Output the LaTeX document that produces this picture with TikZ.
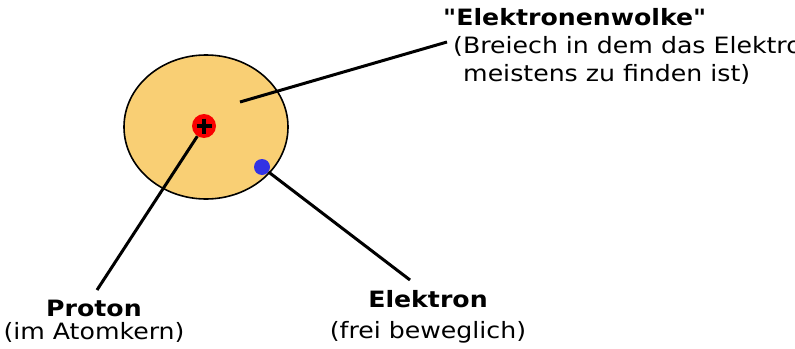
\documentclass[tikz,border=0pt]{standalone}
\usepackage{fontspec}
\setmainfont[FakeStretch=1.12,Ligatures=TeXOff]{DejaVu Sans}
\usepackage{tikz}
\usetikzlibrary{positioning,calc}
\usetikzlibrary{shapes.geometric}
\definecolor{wolkefill}{RGB}{249,207,116}
\definecolor{protonred}{RGB}{250,0,0}
\definecolor{elecblue}{RGB}{50,50,228}
\tikzset{ wolke/.style={draw,ellipse,fill=wolkefill,line width=1.6pt,minimum width=164pt,minimum height=144pt,inner sep=0pt},
  charge/.style={circle,inner sep=0pt},
  lbl/.style={inner sep=0pt,font=\fontsize{22.5}{28}\selectfont},
  pointer/.style={line width=3pt} }

\begin{document}
\begin{tikzpicture}[x=1pt,y=-1pt]
   \useasboundingbox (0,0) rectangle (795,348);
   \node[wolke] (cloud) at (206,127) {};
   \node[charge,fill=protonred,minimum width=24pt,minimum height=23pt] (p) at (204,126) {};
   \draw[line width=3.4pt] ($(p)+(-7.5,0)$) -- ($(p)+(7.5,0)$) ($(p)+(0,-7.5)$) -- ($(p)+(0,7.5)$);
   \node[charge,fill=elecblue,minimum size=16pt] (e) at (262,167) {};
   % labels
   \node[lbl,align=left,anchor=north west] (wtext) at (443,8)
      {\textbf{"Elektronenwolke"}\\ \hspace*{10pt}(Breiech in dem das Elektron\\ \hspace*{20pt}meistens zu finden ist)};
   \node[lbl,align=center,anchor=north,font=\fontsize{22.5}{23}\selectfont] (ptext) at (94,300)
      {\textbf{Proton}\\(im Atomkern)};
   \node[lbl,align=center,anchor=north,font=\fontsize{22.5}{31}\selectfont] (etext) at (428,290)
      {\textbf{Elektron}\\(frei beweglich)};
   % pointers
   \coordinate (win) at (240,102);
   \coordinate (wend) at (447,42);
   \coordinate (pend) at (97,290);
   \coordinate (eend) at (410,280);
   \draw[pointer] (win) -- (wend);
   \draw[pointer] (p) -- (pend);
   \draw[pointer] (e) -- (eend);
\end{tikzpicture}
\end{document}
